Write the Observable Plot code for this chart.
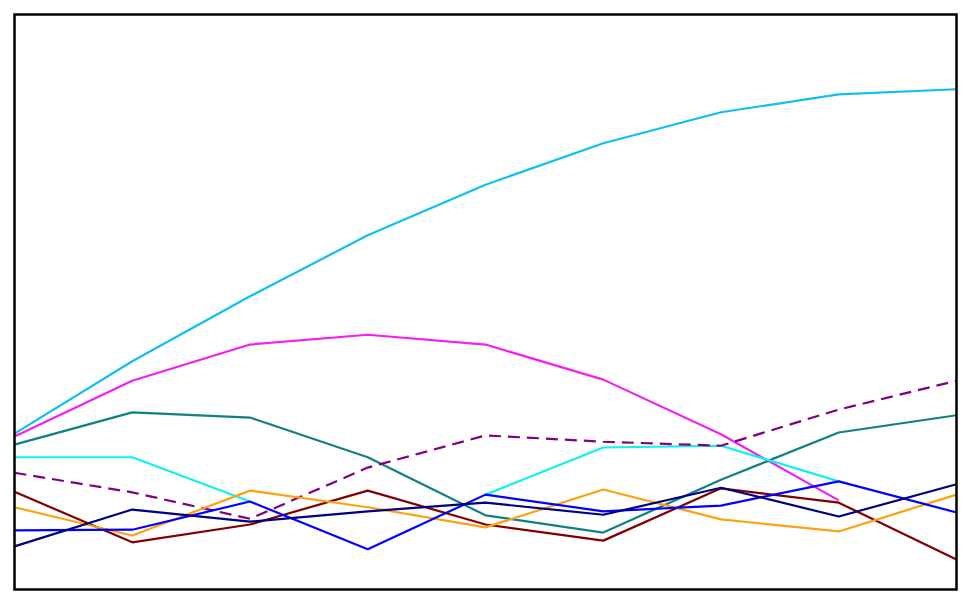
<!DOCTYPE html>
<html>
<head>
<meta charset="utf-8">
<script src="https://cdn.jsdelivr.net/npm/d3@7"></script>
<script src="https://cdn.jsdelivr.net/npm/@observablehq/plot@0.6"></script>
<style>
  html, body { margin: 0; padding: 0; background: #fff; }
  #chart { width: 970px; height: 604px; }
</style>
</head>
<body>
<div id="chart"></div>
<script>
// x categories (positions along the horizontal axis)
const xs = [1, 2, 3, 4, 5, 6, 7, 8, 9];

// series values (null = no value)
const sDeepSkyBlue = [27.1, 39.7, 51.0, 61.6, 70.4, 77.6, 83.0, 86.1, 87.0];
const sMagenta     = [26.6, 36.3, 42.6, 44.3, 42.6, 36.5, 27.0, 15.5, null];
const sTeal        = [25.2, 30.8, 29.9, 23.0, 12.9, 9.9, 19.1, 27.3, 30.3];
const sAqua        = [23.0, 23.0, 15.3, null, 16.5, 24.7, 25.0, 18.8, null];
const sPurple      = [20.3, 16.9, 12.3, 21.2, 26.8, 25.7, 25.0, 31.3, 36.3];
const sMaroon      = [17.0, 8.2, 11.3, 17.2, 11.3, 8.5, 17.6, 15.1, 5.2];
const sOrange      = [14.3, 9.4, 17.2, 14.3, 10.8, 17.4, 12.2, 10.1, 16.5];
const sBlue        = [10.3, 10.4, 15.3, 7.0, 16.5, 13.6, 14.6, 18.8, 13.4];
const sNavy        = [7.5, 13.9, 11.8, 13.6, 15.1, 13.0, 17.7, 12.7, 18.3];

const seriesList = [
  {values: sDeepSkyBlue, color: "#10bfef", dash: null},
  {values: sMagenta, color: "#f020f0", dash: null},
  {values: sTeal, color: "#108080", dash: null},
  {values: sAqua, color: "#10f0f0", dash: null},
  {values: sPurple, color: "#800080", dash: "12,7"},
  {values: sMaroon, color: "#800000", dash: null},
  {values: sOrange, color: "#ffa010", dash: null},
  {values: sBlue, color: "#0000ff", dash: null},
  {values: sNavy, color: "#000080", dash: null}
];

const toRows = vals => xs.map((x, i) => ({x, y: vals[i] == null ? NaN : vals[i]}));

const marks = seriesList.map(s => Plot.line(toRows(s.values), {
  x: "x", y: "y",
  stroke: s.color,
  strokeWidth: 2.2,
  strokeDasharray: s.dash ?? undefined,
  strokeLinejoin: "miter",
  strokeLinecap: "butt"
}));

const chart = Plot.plot({
  width: 970,
  height: 604,
  marginLeft: 14,
  marginRight: 14,
  marginTop: 14,
  marginBottom: 15,
  x: {domain: [1, 9], axis: null},
  y: {domain: [0, 100], axis: null},
  style: {background: "#fff"},
  marks: [
    ...marks,
    Plot.frame({stroke: "black", strokeWidth: 2.5})
  ]
});
document.getElementById("chart").appendChild(chart);
</script>
</body>
</html>
